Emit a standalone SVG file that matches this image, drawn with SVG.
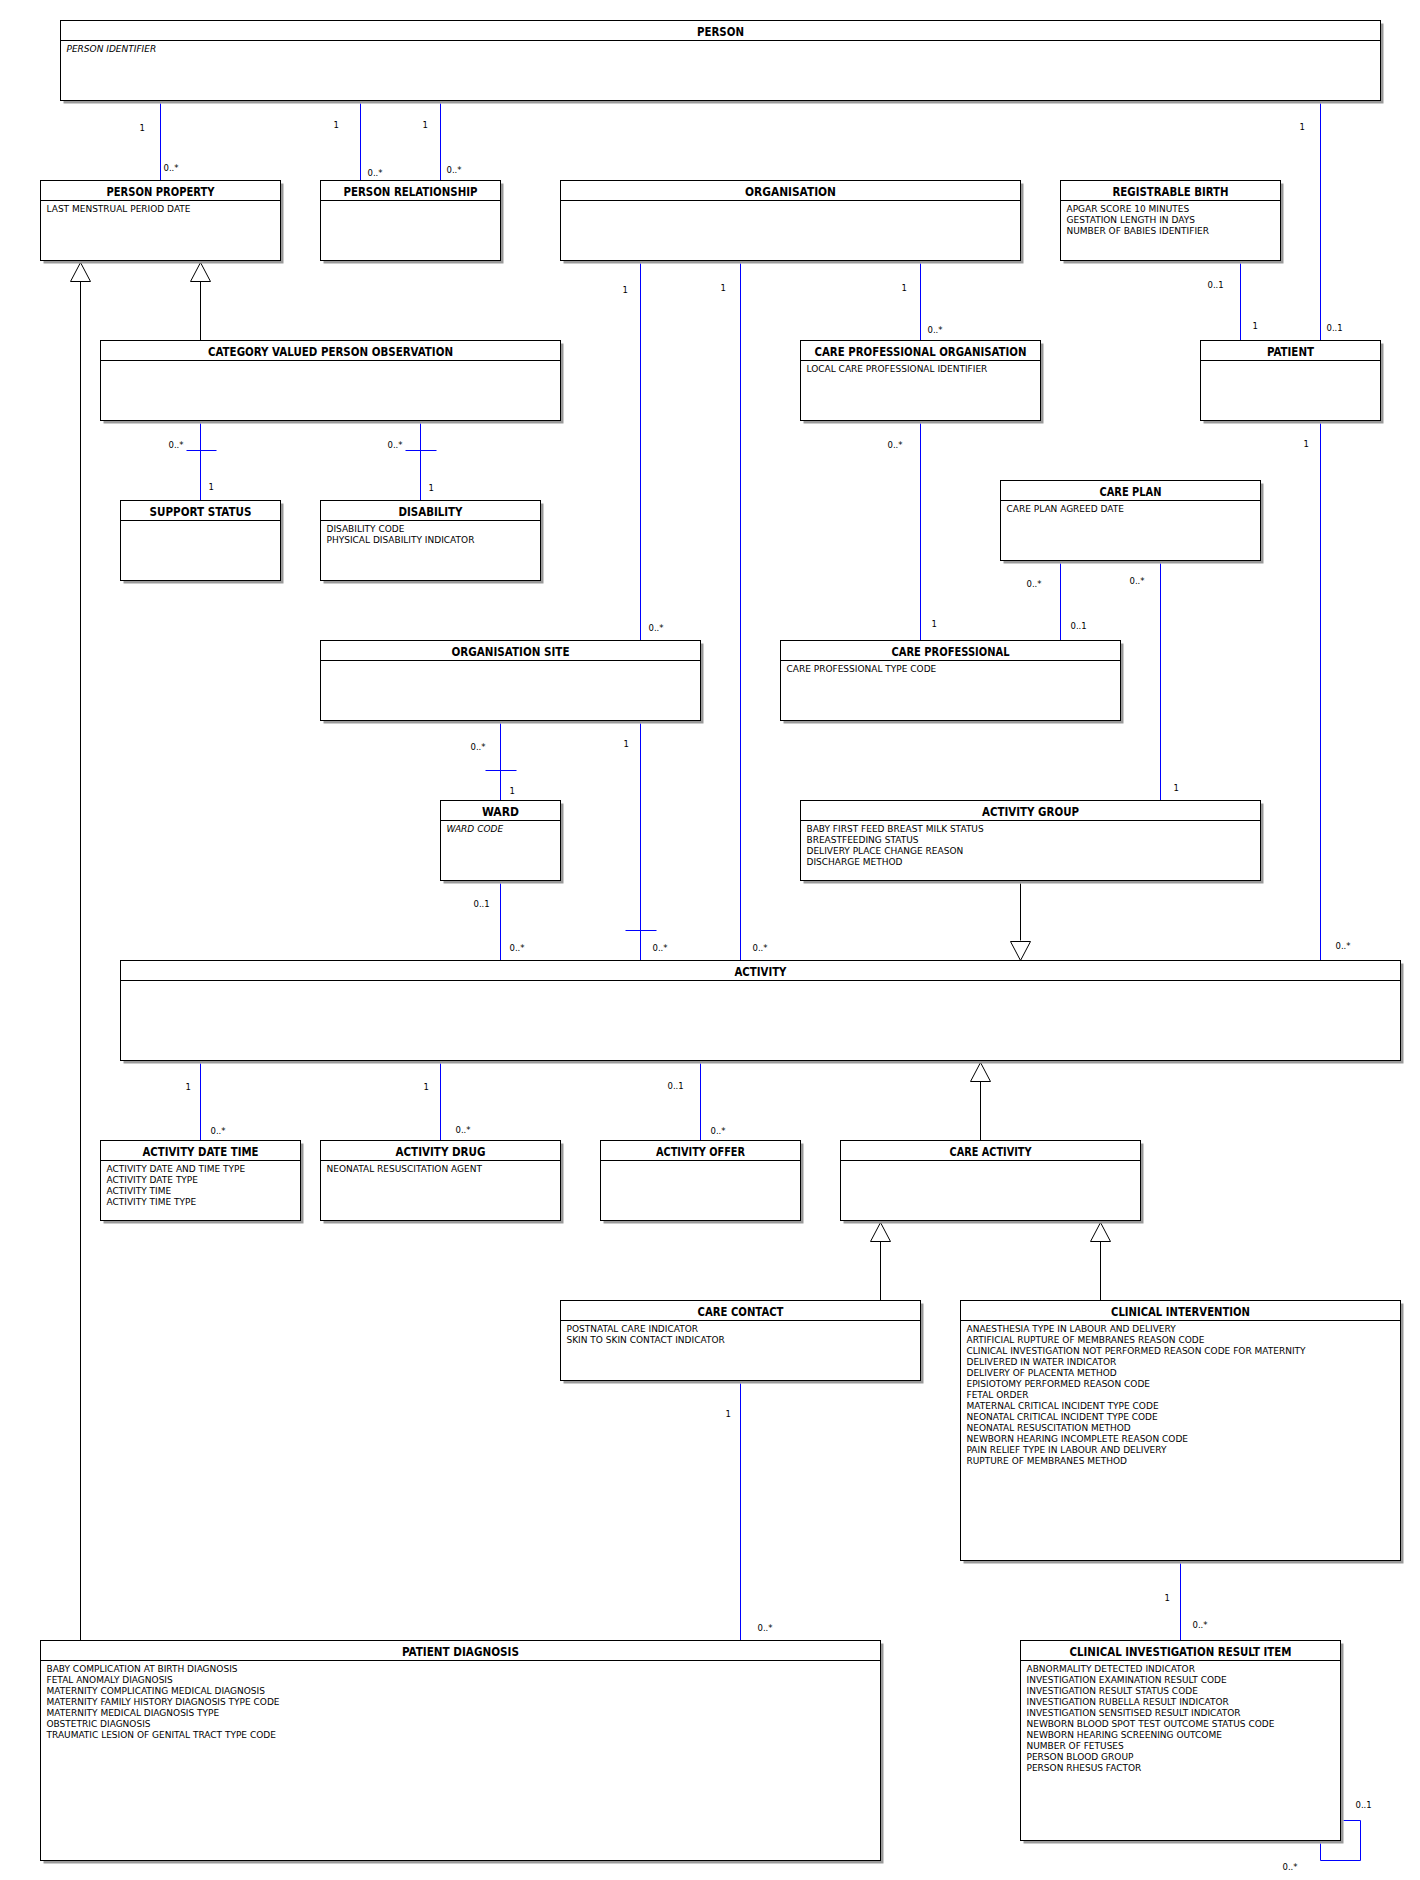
<svg xmlns="http://www.w3.org/2000/svg" width="1420" height="1880" viewBox="0 0 1420 1880">
<style>
.bg{fill:#fff}
.sh{fill:#9a9a9a}
.box{fill:#fff;stroke:#000;stroke-width:1}
.sep{stroke:#000;stroke-width:1}
.t{font-family:"DejaVu Sans Condensed","DejaVu Sans",sans-serif;font-stretch:condensed;font-weight:bold;font-size:11.5px;text-anchor:middle;fill:#000}
.a{font-family:"DejaVu Sans",sans-serif;font-size:9px;fill:#000}
.i{font-style:italic}
.as{stroke:#0000ff;stroke-width:1;fill:none}
.gl{stroke:#000;stroke-width:1;fill:none}
.tri{fill:#fff;stroke:#000;stroke-width:1}
.l{font-family:"DejaVu Sans",sans-serif;font-size:8.5px;fill:#000}
</style>
<rect class="bg" x="0" y="0" width="1420" height="1880"/>
<g transform="translate(0.5,0.5)">
<g id="connectors">
<path class="as" d="M160 103V180M360 103V180M440 103V180M1320 103V340M1240 263V340M640 263V640M740 263V960M920 263V340M920 423V640M1060 563V640M1160 563V800M1320 423V960M200 423V500M420 423V500M500 723V800M640 723V960M500 883V960M200 1063V1140M440 1063V1140M700 1063V1140M740 1383V1640M1180 1563V1640M1343 1820H1360V1860H1320V1843"/>
<path class="as" d="M186 450H216M405 450H436M485 770H516M625 930H656"/>
<path class="gl" d="M200 340V281M80 1640V281M1020 883V940M980 1140V1081M880 1300V1241M1100 1300V1241"/>
<path class="tri" d="M200 262L190 281H210ZM80 262L70 281H90ZM1020 960L1010 941H1030ZM980 1062L970 1081H990ZM880 1222L870 1241H890ZM1100 1222L1090 1241H1110Z"/>
<text class="l" x="139" y="130">1</text><text class="l" x="163" y="170">0..*</text>
<text class="l" x="333" y="127">1</text><text class="l" x="367" y="175">0..*</text>
<text class="l" x="422" y="127">1</text><text class="l" x="446" y="172">0..*</text>
<text class="l" x="1299" y="129">1</text><text class="l" x="1326" y="330">0..1</text>
<text class="l" x="1207" y="287">0..1</text><text class="l" x="1252" y="328">1</text>
<text class="l" x="622" y="292">1</text><text class="l" x="648" y="630">0..*</text>
<text class="l" x="720" y="290">1</text><text class="l" x="752" y="950">0..*</text>
<text class="l" x="901" y="290">1</text><text class="l" x="927" y="332">0..*</text>
<text class="l" x="887" y="447">0..*</text><text class="l" x="931" y="626">1</text>
<text class="l" x="1026" y="586">0..*</text><text class="l" x="1070" y="628">0..1</text>
<text class="l" x="1129" y="583">0..*</text><text class="l" x="1173" y="790">1</text>
<text class="l" x="1303" y="446">1</text><text class="l" x="1335" y="948">0..*</text>
<text class="l" x="168" y="447">0..*</text><text class="l" x="208" y="489">1</text>
<text class="l" x="387" y="447">0..*</text><text class="l" x="428" y="490">1</text>
<text class="l" x="470" y="749">0..*</text><text class="l" x="509" y="793">1</text>
<text class="l" x="623" y="746">1</text><text class="l" x="652" y="950">0..*</text>
<text class="l" x="473" y="906">0..1</text><text class="l" x="509" y="950">0..*</text>
<text class="l" x="185" y="1089">1</text><text class="l" x="210" y="1133">0..*</text>
<text class="l" x="423" y="1089">1</text><text class="l" x="455" y="1132">0..*</text>
<text class="l" x="667" y="1088">0..1</text><text class="l" x="710" y="1133">0..*</text>
<text class="l" x="725" y="1416">1</text><text class="l" x="757" y="1630">0..*</text>
<text class="l" x="1164" y="1600">1</text><text class="l" x="1192" y="1627">0..*</text>
<text class="l" x="1355" y="1807">0..1</text><text class="l" x="1282" y="1869">0..*</text>
</g>

<g id="person"><rect class="sh" x="63" y="23" width="1320" height="80"/><rect class="box" x="60" y="20" width="1320" height="80"/><line class="sep" x1="60" y1="40" x2="1380" y2="40"/>
<text class="t" x="720" y="35" textLength="47" lengthAdjust="spacingAndGlyphs">PERSON</text>
<text class="a i" x="66" y="51">PERSON IDENTIFIER</text></g>

<g id="person-property"><rect class="sh" x="43" y="183" width="240" height="80"/><rect class="box" x="40" y="180" width="240" height="80"/><line class="sep" x1="40" y1="200" x2="280" y2="200"/>
<text class="t" x="160" y="195" textLength="108" lengthAdjust="spacingAndGlyphs">PERSON PROPERTY</text>
<text class="a" x="46" y="211">LAST MENSTRUAL PERIOD DATE</text></g>

<g id="person-relationship"><rect class="sh" x="323" y="183" width="180" height="80"/><rect class="box" x="320" y="180" width="180" height="80"/><line class="sep" x1="320" y1="200" x2="500" y2="200"/>
<text class="t" x="410" y="195" textLength="134" lengthAdjust="spacingAndGlyphs">PERSON RELATIONSHIP</text></g>

<g id="organisation"><rect class="sh" x="563" y="183" width="460" height="80"/><rect class="box" x="560" y="180" width="460" height="80"/><line class="sep" x1="560" y1="200" x2="1020" y2="200"/>
<text class="t" x="790" y="195" textLength="91" lengthAdjust="spacingAndGlyphs">ORGANISATION</text></g>

<g id="registrable-birth"><rect class="sh" x="1063" y="183" width="220" height="80"/><rect class="box" x="1060" y="180" width="220" height="80"/><line class="sep" x1="1060" y1="200" x2="1280" y2="200"/>
<text class="t" x="1170" y="195" textLength="116" lengthAdjust="spacingAndGlyphs">REGISTRABLE BIRTH</text>
<text class="a" x="1066" y="211">APGAR SCORE 10 MINUTES</text>
<text class="a" x="1066" y="222">GESTATION LENGTH IN DAYS</text>
<text class="a" x="1066" y="233">NUMBER OF BABIES IDENTIFIER</text></g>

<g id="category-valued-person-observation"><rect class="sh" x="103" y="343" width="460" height="80"/><rect class="box" x="100" y="340" width="460" height="80"/><line class="sep" x1="100" y1="360" x2="560" y2="360"/>
<text class="t" x="330" y="355" textLength="245" lengthAdjust="spacingAndGlyphs">CATEGORY VALUED PERSON OBSERVATION</text></g>

<g id="care-professional-organisation"><rect class="sh" x="803" y="343" width="240" height="80"/><rect class="box" x="800" y="340" width="240" height="80"/><line class="sep" x1="800" y1="360" x2="1040" y2="360"/>
<text class="t" x="920" y="355" textLength="212" lengthAdjust="spacingAndGlyphs">CARE PROFESSIONAL ORGANISATION</text>
<text class="a" x="806" y="371">LOCAL CARE PROFESSIONAL IDENTIFIER</text></g>

<g id="patient"><rect class="sh" x="1203" y="343" width="180" height="80"/><rect class="box" x="1200" y="340" width="180" height="80"/><line class="sep" x1="1200" y1="360" x2="1380" y2="360"/>
<text class="t" x="1290" y="355" textLength="47" lengthAdjust="spacingAndGlyphs">PATIENT</text></g>

<g id="support-status"><rect class="sh" x="123" y="503" width="160" height="80"/><rect class="box" x="120" y="500" width="160" height="80"/><line class="sep" x1="120" y1="520" x2="280" y2="520"/>
<text class="t" x="200" y="515" textLength="102" lengthAdjust="spacingAndGlyphs">SUPPORT STATUS</text></g>

<g id="disability"><rect class="sh" x="323" y="503" width="220" height="80"/><rect class="box" x="320" y="500" width="220" height="80"/><line class="sep" x1="320" y1="520" x2="540" y2="520"/>
<text class="t" x="430" y="515" textLength="64" lengthAdjust="spacingAndGlyphs">DISABILITY</text>
<text class="a" x="326" y="531">DISABILITY CODE</text>
<text class="a" x="326" y="542">PHYSICAL DISABILITY INDICATOR</text></g>

<g id="care-plan"><rect class="sh" x="1003" y="483" width="260" height="80"/><rect class="box" x="1000" y="480" width="260" height="80"/><line class="sep" x1="1000" y1="500" x2="1260" y2="500"/>
<text class="t" x="1130" y="495" textLength="62" lengthAdjust="spacingAndGlyphs">CARE PLAN</text>
<text class="a" x="1006" y="511">CARE PLAN AGREED DATE</text></g>

<g id="organisation-site"><rect class="sh" x="323" y="643" width="380" height="80"/><rect class="box" x="320" y="640" width="380" height="80"/><line class="sep" x1="320" y1="660" x2="700" y2="660"/>
<text class="t" x="510" y="655" textLength="118" lengthAdjust="spacingAndGlyphs">ORGANISATION SITE</text></g>

<g id="care-professional"><rect class="sh" x="783" y="643" width="340" height="80"/><rect class="box" x="780" y="640" width="340" height="80"/><line class="sep" x1="780" y1="660" x2="1120" y2="660"/>
<text class="t" x="950" y="655" textLength="118" lengthAdjust="spacingAndGlyphs">CARE PROFESSIONAL</text>
<text class="a" x="786" y="671">CARE PROFESSIONAL TYPE CODE</text></g>

<g id="ward"><rect class="sh" x="443" y="803" width="120" height="80"/><rect class="box" x="440" y="800" width="120" height="80"/><line class="sep" x1="440" y1="820" x2="560" y2="820"/>
<text class="t" x="500" y="815" textLength="37" lengthAdjust="spacingAndGlyphs">WARD</text>
<text class="a i" x="446" y="831">WARD CODE</text></g>

<g id="activity-group"><rect class="sh" x="803" y="803" width="460" height="80"/><rect class="box" x="800" y="800" width="460" height="80"/><line class="sep" x1="800" y1="820" x2="1260" y2="820"/>
<text class="t" x="1030" y="815" textLength="97" lengthAdjust="spacingAndGlyphs">ACTIVITY GROUP</text>
<text class="a" x="806" y="831">BABY FIRST FEED BREAST MILK STATUS</text>
<text class="a" x="806" y="842">BREASTFEEDING STATUS</text>
<text class="a" x="806" y="853">DELIVERY PLACE CHANGE REASON</text>
<text class="a" x="806" y="864">DISCHARGE METHOD</text></g>

<g id="activity"><rect class="sh" x="123" y="963" width="1280" height="100"/><rect class="box" x="120" y="960" width="1280" height="100"/><line class="sep" x1="120" y1="980" x2="1400" y2="980"/>
<text class="t" x="760" y="975" textLength="52" lengthAdjust="spacingAndGlyphs">ACTIVITY</text></g>

<g id="activity-date-time"><rect class="sh" x="103" y="1143" width="200" height="80"/><rect class="box" x="100" y="1140" width="200" height="80"/><line class="sep" x1="100" y1="1160" x2="300" y2="1160"/>
<text class="t" x="200" y="1155" textLength="116" lengthAdjust="spacingAndGlyphs">ACTIVITY DATE TIME</text>
<text class="a" x="106" y="1171">ACTIVITY DATE AND TIME TYPE</text>
<text class="a" x="106" y="1182">ACTIVITY DATE TYPE</text>
<text class="a" x="106" y="1193">ACTIVITY TIME</text>
<text class="a" x="106" y="1204">ACTIVITY TIME TYPE</text></g>

<g id="activity-drug"><rect class="sh" x="323" y="1143" width="240" height="80"/><rect class="box" x="320" y="1140" width="240" height="80"/><line class="sep" x1="320" y1="1160" x2="560" y2="1160"/>
<text class="t" x="440" y="1155" textLength="90" lengthAdjust="spacingAndGlyphs">ACTIVITY DRUG</text>
<text class="a" x="326" y="1171">NEONATAL RESUSCITATION AGENT</text></g>

<g id="activity-offer"><rect class="sh" x="603" y="1143" width="200" height="80"/><rect class="box" x="600" y="1140" width="200" height="80"/><line class="sep" x1="600" y1="1160" x2="800" y2="1160"/>
<text class="t" x="700" y="1155" textLength="89" lengthAdjust="spacingAndGlyphs">ACTIVITY OFFER</text></g>

<g id="care-activity"><rect class="sh" x="843" y="1143" width="300" height="80"/><rect class="box" x="840" y="1140" width="300" height="80"/><line class="sep" x1="840" y1="1160" x2="1140" y2="1160"/>
<text class="t" x="990" y="1155" textLength="82" lengthAdjust="spacingAndGlyphs">CARE ACTIVITY</text></g>

<g id="care-contact"><rect class="sh" x="563" y="1303" width="360" height="80"/><rect class="box" x="560" y="1300" width="360" height="80"/><line class="sep" x1="560" y1="1320" x2="920" y2="1320"/>
<text class="t" x="740" y="1315" textLength="86" lengthAdjust="spacingAndGlyphs">CARE CONTACT</text>
<text class="a" x="566" y="1331">POSTNATAL CARE INDICATOR</text>
<text class="a" x="566" y="1342">SKIN TO SKIN CONTACT INDICATOR</text></g>

<g id="clinical-intervention"><rect class="sh" x="963" y="1303" width="440" height="260"/><rect class="box" x="960" y="1300" width="440" height="260"/><line class="sep" x1="960" y1="1320" x2="1400" y2="1320"/>
<text class="t" x="1180" y="1315" textLength="139" lengthAdjust="spacingAndGlyphs">CLINICAL INTERVENTION</text>
<text class="a" x="966" y="1331">ANAESTHESIA TYPE IN LABOUR AND DELIVERY</text>
<text class="a" x="966" y="1342">ARTIFICIAL RUPTURE OF MEMBRANES REASON CODE</text>
<text class="a" x="966" y="1353">CLINICAL INVESTIGATION NOT PERFORMED REASON CODE FOR MATERNITY</text>
<text class="a" x="966" y="1364">DELIVERED IN WATER INDICATOR</text>
<text class="a" x="966" y="1375">DELIVERY OF PLACENTA METHOD</text>
<text class="a" x="966" y="1386">EPISIOTOMY PERFORMED REASON CODE</text>
<text class="a" x="966" y="1397">FETAL ORDER</text>
<text class="a" x="966" y="1408">MATERNAL CRITICAL INCIDENT TYPE CODE</text>
<text class="a" x="966" y="1419">NEONATAL CRITICAL INCIDENT TYPE CODE</text>
<text class="a" x="966" y="1430">NEONATAL RESUSCITATION METHOD</text>
<text class="a" x="966" y="1441">NEWBORN HEARING INCOMPLETE REASON CODE</text>
<text class="a" x="966" y="1452">PAIN RELIEF TYPE IN LABOUR AND DELIVERY</text>
<text class="a" x="966" y="1463">RUPTURE OF MEMBRANES METHOD</text></g>

<g id="patient-diagnosis"><rect class="sh" x="43" y="1643" width="840" height="220"/><rect class="box" x="40" y="1640" width="840" height="220"/><line class="sep" x1="40" y1="1660" x2="880" y2="1660"/>
<text class="t" x="460" y="1655" textLength="117" lengthAdjust="spacingAndGlyphs">PATIENT DIAGNOSIS</text>
<text class="a" x="46" y="1671">BABY COMPLICATION AT BIRTH DIAGNOSIS</text>
<text class="a" x="46" y="1682">FETAL ANOMALY DIAGNOSIS</text>
<text class="a" x="46" y="1693">MATERNITY COMPLICATING MEDICAL DIAGNOSIS</text>
<text class="a" x="46" y="1704">MATERNITY FAMILY HISTORY DIAGNOSIS TYPE CODE</text>
<text class="a" x="46" y="1715">MATERNITY MEDICAL DIAGNOSIS TYPE</text>
<text class="a" x="46" y="1726">OBSTETRIC DIAGNOSIS</text>
<text class="a" x="46" y="1737">TRAUMATIC LESION OF GENITAL TRACT TYPE CODE</text></g>

<g id="clinical-investigation-result-item"><rect class="sh" x="1023" y="1643" width="320" height="200"/><rect class="box" x="1020" y="1640" width="320" height="200"/><line class="sep" x1="1020" y1="1660" x2="1340" y2="1660"/>
<text class="t" x="1180" y="1655" textLength="222" lengthAdjust="spacingAndGlyphs">CLINICAL INVESTIGATION RESULT ITEM</text>
<text class="a" x="1026" y="1671">ABNORMALITY DETECTED INDICATOR</text>
<text class="a" x="1026" y="1682">INVESTIGATION EXAMINATION RESULT CODE</text>
<text class="a" x="1026" y="1693">INVESTIGATION RESULT STATUS CODE</text>
<text class="a" x="1026" y="1704">INVESTIGATION RUBELLA RESULT INDICATOR</text>
<text class="a" x="1026" y="1715">INVESTIGATION SENSITISED RESULT INDICATOR</text>
<text class="a" x="1026" y="1726">NEWBORN BLOOD SPOT TEST OUTCOME STATUS CODE</text>
<text class="a" x="1026" y="1737">NEWBORN HEARING SCREENING OUTCOME</text>
<text class="a" x="1026" y="1748">NUMBER OF FETUSES</text>
<text class="a" x="1026" y="1759">PERSON BLOOD GROUP</text>
<text class="a" x="1026" y="1770">PERSON RHESUS FACTOR</text></g>
</g>
</svg>
